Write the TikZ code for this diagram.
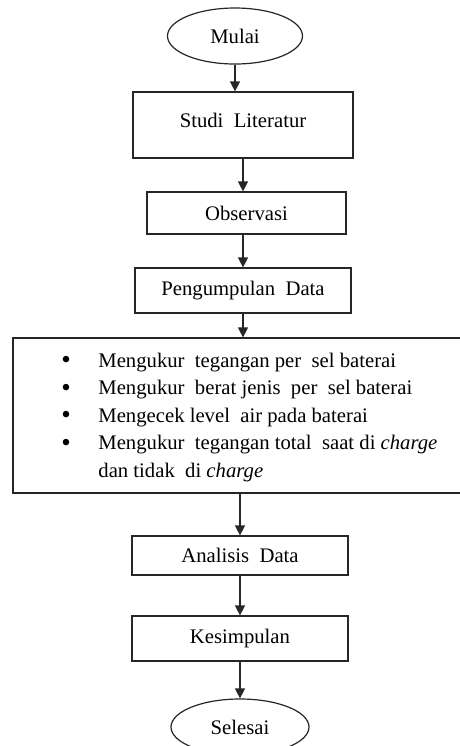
\documentclass[tikz,border=0pt]{standalone}
\usepackage{fontspec}
\setmainfont{Liberation Serif}
\usetikzlibrary{arrows.meta,shapes.geometric}
\tikzset{
  flowbox/.style={draw=black!85, line width=0.6pt, inner sep=0pt},
  terminal/.style={ellipse, draw=black!85, line width=0.6pt, inner sep=0pt},
  flowarrow/.style={-{Triangle[length=5pt,width=5pt]}, line width=0.6pt, draw=black!85, fill=black!85},
  itemtext/.style={anchor=base west, inner sep=0pt},
}
\begin{document}
\begin{tikzpicture}[x=0.5pt,y=-0.5pt,every node/.style={font=\fontsize{10.35}{13.75}\selectfont}]
  \useasboundingbox (0,0) rectangle (460,746);
  \clip (0,0) rectangle (460,746);
  % start / end
  \node[terminal, minimum width=67.5pt, minimum height=28pt] (mulai) at (235,36) {Mulai};
  \node[terminal, minimum width=69pt, minimum height=28pt] (selesai) at (240,727) {Selesai};
  % steps
  \node[flowbox, minimum width=110pt, minimum height=33pt, text depth=5pt] (studi) at (243,125) {Studi\ \ Literatur};
  \node[flowbox, minimum width=99.5pt, minimum height=21pt] (observasi) at (246.5,213) {Observasi};
  \node[flowbox, minimum width=108pt, minimum height=22.5pt] (pengumpulan) at (243,290.5) {Pengumpulan\ \ Data};
  \node[flowbox, minimum width=233.5pt, minimum height=77.5pt] (kegiatan) at (246.5,415.5) {};
  \node[flowbox, minimum width=108pt, minimum height=19.5pt] (analisis) at (240,555.5) {Analisis\ \ Data};
  \node[flowbox, minimum width=108pt, minimum height=22.5pt] (kesimpulan) at (240,638.5) {Kesimpulan};
  % list in the wide box
  \foreach \k in {0,...,3}
    \node[anchor=base, inner sep=0pt, font=\fontsize{13.5}{13.5}\selectfont] (bullet\k) at (66,368.5+27.5*\k) {•};
  \node[itemtext] (item1) at (98,367) {Mengukur\ \ tegangan per\ \ sel baterai};
  \node[itemtext] (item2) at (98,394.5) {Mengukur\ \ berat jenis\ \ per\ \ sel baterai};
  \node[itemtext] (item3) at (98,422) {Mengecek level\ \ air pada baterai};
  \node[itemtext] (item4) at (98,449.5) {Mengukur\ \ tegangan total\ \ saat di \textit{charge}};
  \node[itemtext] (item5) at (98,477) {dan tidak\ \ di \textit{charge}};
  % connectors
  \draw[flowarrow] (mulai.south) -- (mulai.south |- studi.north);
  \draw[flowarrow] (studi.south) -- (studi.south |- observasi.north);
  \draw[flowarrow] (observasi.south -| pengumpulan.north) -- (pengumpulan.north);
  \draw[flowarrow] (pengumpulan.south) -- (pengumpulan.south |- kegiatan.north);
  \draw[flowarrow] (kegiatan.south -| analisis.north) -- (analisis.north);
  \draw[flowarrow] (analisis.south) -- (kesimpulan.north);
  \draw[flowarrow] (kesimpulan.south) -- (selesai.north);
\end{tikzpicture}
\end{document}
